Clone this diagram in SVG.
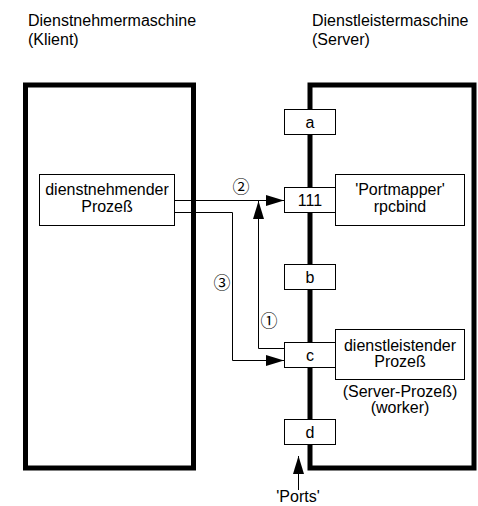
<svg xmlns="http://www.w3.org/2000/svg" width="478" height="506" viewBox="0 0 478 506">
<style>
text{font-family:"Liberation Sans",Arial,sans-serif;font-size:16px;fill:#000}
.c{text-anchor:middle}
.num{font-family:"Noto Sans CJK JP","DejaVu Sans",sans-serif;font-size:17px;text-anchor:middle}
.machine{fill:none;stroke:#000;stroke-width:5}
.box{fill:#fff;stroke:#000;stroke-width:1}
.wire{fill:none;stroke:#000;stroke-width:1}
</style>
<defs>
<marker id="ah" markerUnits="userSpaceOnUse" markerWidth="18" markerHeight="11" refX="18" refY="5.5" orient="auto">
<path d="M0,0 L18,5.5 L0,11 Z" fill="#000"/>
</marker>
</defs>
<rect width="478" height="506" fill="#fff"/>
<g id="client-machine">
<text x="28" y="26">Dienstnehmermaschine</text>
<text x="28" y="45">(Klient)</text>
<rect class="machine" x="25.5" y="85" width="168" height="383"/>
</g>
<g id="server-machine">
<text x="312" y="26">Dienstleistermaschine</text>
<text x="312" y="45">(Server)</text>
<path class="machine" d="M310,85 H474 V468 H310 Z"/>
</g>
<g id="client-process">
<rect class="box" x="39.5" y="174.5" width="135" height="51"/>
<text class="c" x="107" y="195">dienstnehmender</text>
<text class="c" x="107" y="212">Prozeß</text>
</g>
<g id="portmapper">
<rect class="box" x="335.5" y="174.5" width="129" height="51"/>
<text class="c" x="400" y="195">'Portmapper'</text>
<text class="c" x="400" y="212">rpcbind</text>
</g>
<g id="server-process">
<rect class="box" x="335.5" y="329.5" width="129" height="50"/>
<text class="c" x="400" y="351">dienstleistender</text>
<text class="c" x="400" y="367">Prozeß</text>
<text class="c" x="400" y="397">(Server-Prozeß)</text>
<text class="c" x="400" y="413">(worker)</text>
</g>
<g id="port-a">
<rect class="box" x="284.5" y="109.5" width="51" height="25"/>
<text class="c" x="310" y="128">a</text>
</g>
<g id="port-111">
<rect class="box" x="284.5" y="187.5" width="51" height="25"/>
<text class="c" x="310" y="206">111</text>
</g>
<g id="port-b">
<rect class="box" x="284.5" y="264.5" width="51" height="25"/>
<text class="c" x="310" y="283">b</text>
</g>
<g id="port-c">
<rect class="box" x="284.5" y="342.5" width="51" height="25"/>
<text class="c" x="310" y="361">c</text>
</g>
<g id="port-d">
<rect class="box" x="284.5" y="419.5" width="51" height="25"/>
<text class="c" x="310" y="438">d</text>
</g>
<g id="connectors">
<path class="wire" d="M175,200.5 H284" marker-end="url(#ah)"/>
<path class="wire" d="M175,212.5 H232.5 V360.5 H284" marker-end="url(#ah)"/>
<path class="wire" d="M284,348.5 H258.5 V201" marker-end="url(#ah)"/>
<path class="wire" d="M298.5,490 V456" marker-end="url(#ah)"/>
<text class="num" x="241" y="193">②</text>
<text class="num" x="222" y="289">③</text>
<text class="num" x="269" y="327">①</text>
<text class="c" x="298" y="502">'Ports'</text>
</g>
</svg>
